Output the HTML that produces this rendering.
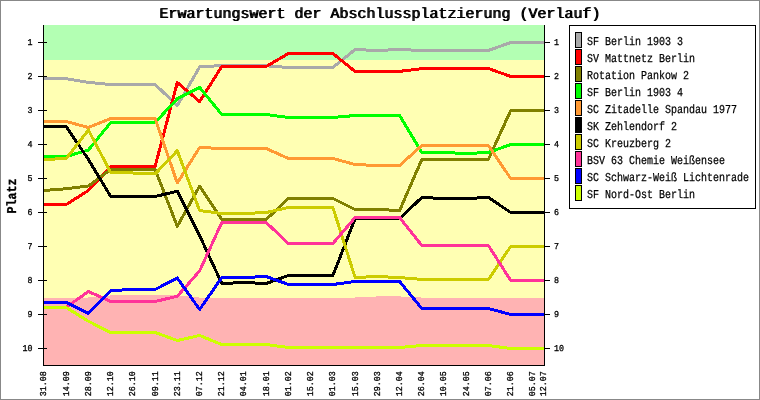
<!DOCTYPE html>
<html lang="de"><head><meta charset="utf-8"><title>Erwartungswert der Abschlussplatzierung (Verlauf)</title>
<style>html,body{margin:0;padding:0;background:#fff;overflow:hidden}svg{display:block}text{font-family:"Liberation Mono","DejaVu Sans Mono",monospace;fill:#000;text-rendering:geometricPrecision}.t{font-weight:normal;font-size:15px}.lg{font-size:12px;stroke:#000;stroke-width:0.25px}.tk{font-weight:normal;font-size:9px;stroke:#000;stroke-width:0.3px}.pl{font-weight:bold;font-size:13.5px;stroke:#000;stroke-width:0.35px}</style></head><body>
<svg width="760" height="400" viewBox="0 0 760 400">
<defs><filter id="sm" x="-2%" y="-20%" width="104%" height="140%"><feOffset in="SourceGraphic" dx="1" dy="0" result="o"/><feMerge><feMergeNode in="SourceGraphic"/><feMergeNode in="o"/></feMerge></filter><filter id="nf" x="0" y="0" width="760" height="400" filterUnits="userSpaceOnUse"><feOffset dx="0" dy="0"/></filter></defs>
<rect x="0" y="0" width="760" height="400" fill="#fff"/>
<rect x="0.5" y="0.5" width="759" height="399" fill="none" stroke="#888" stroke-width="1" shape-rendering="crispEdges"/>
<g shape-rendering="crispEdges">
<rect x="44" y="25" width="500" height="35" fill="#b3ffb3"/>
<rect x="44" y="60" width="500" height="305" fill="#ffffb3"/>
<polygon points="44,365 44.0,298 66.2,298 88.4,297.5 110.7,295.4 132.9,295.4 155.1,295.4 177.3,295.4 199.6,297.6 221.8,298 244.0,298 266.2,298 288.4,298 310.7,298 332.9,298 355.1,297.5 377.3,296.45 399.6,296.45 421.8,297.55 444.0,298 466.2,298 488.4,298 510.7,298 532.9,298 544.0,298 544,365" fill="#ffb3b3"/>
</g>
<g fill="none" stroke-width="3" stroke-linejoin="round" stroke-linecap="butt" shape-rendering="crispEdges">
<polyline stroke="#a9a9a9" points="44.0,78.75 66.2,78.75 88.4,82.40 110.7,84.50 132.9,84.50 155.1,84.50 177.3,105.50 199.6,67.00 221.8,65.50 244.0,65.50 266.2,65.75 288.4,67.50 310.7,67.50 332.9,67.50 355.1,49.50 377.3,50.50 399.6,49.50 421.8,50.50 444.0,50.50 466.2,50.50 488.4,50.50 510.7,42.50 532.9,42.50 544.0,42.50"/>
<polyline stroke="#ff0000" points="44.0,204.50 66.2,204.50 88.4,190.50 110.7,166.50 132.9,166.50 155.1,166.50 177.3,82.50 199.6,101.50 221.8,66.50 244.0,66.50 266.2,66.50 288.4,53.50 310.7,53.50 332.9,53.50 355.1,71.50 377.3,71.50 399.6,71.34 421.8,68.70 444.0,68.50 466.2,68.50 488.4,68.50 510.7,76.50 532.9,76.50 544.0,76.50"/>
<polyline stroke="#808000" points="44.0,190.50 66.2,188.75 88.4,186.00 110.7,169.50 132.9,169.50 155.1,169.50 177.3,226.25 199.6,186.25 221.8,219.50 244.0,219.50 266.2,219.50 288.4,198.50 310.7,198.50 332.9,198.50 355.1,209.50 377.3,209.50 399.6,210.50 421.8,159.50 444.0,159.50 466.2,159.50 488.4,159.50 510.7,110.50 532.9,110.50 544.0,110.50"/>
<polyline stroke="#00ff00" points="44.0,156.50 66.2,156.50 88.4,150.00 110.7,122.50 132.9,122.50 155.1,122.50 177.3,98.75 199.6,87.50 221.8,114.50 244.0,114.50 266.2,114.50 288.4,117.50 310.7,117.50 332.9,117.50 355.1,115.50 377.3,115.50 399.6,115.50 421.8,152.50 444.0,152.50 466.2,153.50 488.4,152.50 510.7,144.50 532.9,144.50 544.0,144.50"/>
<polyline stroke="#ff9933" points="44.0,121.50 66.2,121.50 88.4,127.50 110.7,118.50 132.9,118.50 155.1,118.50 177.3,183.00 199.6,147.50 221.8,148.50 244.0,148.50 266.2,148.50 288.4,158.50 310.7,158.50 332.9,158.50 355.1,164.50 377.3,165.50 399.6,165.50 421.8,145.50 444.0,145.50 466.2,145.50 488.4,145.50 510.7,178.50 532.9,178.50 544.0,178.50"/>
<polyline stroke="#000000" points="44.0,126.50 66.2,126.50 88.4,159.50 110.7,196.50 132.9,196.50 155.1,196.50 177.3,191.25 199.6,235.50 221.8,283.50 244.0,282.50 266.2,283.50 288.4,275.50 310.7,275.50 332.9,275.50 355.1,218.50 377.3,218.50 399.6,218.50 421.8,197.50 444.0,198.50 466.2,198.50 488.4,197.50 510.7,212.50 532.9,212.50 544.0,212.50"/>
<polyline stroke="#cccc00" points="44.0,159.50 66.2,158.50 88.4,130.00 110.7,172.50 132.9,173.00 155.1,174.00 177.3,150.75 199.6,210.50 221.8,213.50 244.0,213.50 266.2,212.50 288.4,207.50 310.7,207.50 332.9,207.50 355.1,277.50 377.3,276.50 399.6,277.55 421.8,279.40 444.0,279.50 466.2,279.50 488.4,279.50 510.7,246.50 532.9,246.50 544.0,246.50"/>
<polyline stroke="#ff3399" points="44.0,307.25 66.2,307.25 88.4,291.50 110.7,301.50 132.9,301.50 155.1,301.50 177.3,296.25 199.6,271.00 221.8,222.50 244.0,222.50 266.2,222.50 288.4,243.50 310.7,243.50 332.9,243.50 355.1,217.50 377.3,217.50 399.6,217.50 421.8,245.50 444.0,245.50 466.2,245.50 488.4,245.50 510.7,280.50 532.9,280.50 544.0,280.50"/>
<polyline stroke="#0000ff" points="44.0,302.50 66.2,302.50 88.4,313.50 110.7,290.50 132.9,289.50 155.1,289.50 177.3,278.00 199.6,309.50 221.8,277.50 244.0,277.50 266.2,276.50 288.4,284.50 310.7,284.50 332.9,284.50 355.1,281.50 377.3,281.50 399.6,281.50 421.8,308.50 444.0,308.50 466.2,308.50 488.4,308.50 510.7,314.50 532.9,314.50 544.0,314.50"/>
<polyline stroke="#ccff00" points="44.0,307.50 66.2,307.50 88.4,321.25 110.7,332.50 132.9,332.50 155.1,332.50 177.3,340.50 199.6,335.50 221.8,344.50 244.0,344.50 266.2,344.50 288.4,347.50 310.7,347.50 332.9,347.50 355.1,347.50 377.3,347.50 399.6,347.50 421.8,345.50 444.0,345.50 466.2,345.50 488.4,345.50 510.7,348.50 532.9,348.50 544.0,348.50"/>
</g>
<g stroke="#000" stroke-width="1" shape-rendering="crispEdges" fill="none">
<path d="M43.5 25V365.5 M43 365.5H545 M544.5 25V366"/>
<path d="M38 42.5H47 M545 42.5H550 M38 76.5H47 M545 76.5H550 M38 110.5H47 M545 110.5H550 M38 144.5H47 M545 144.5H550 M38 178.5H47 M545 178.5H550 M38 212.5H47 M545 212.5H550 M38 246.5H47 M545 246.5H550 M38 280.5H47 M545 280.5H550 M38 314.5H47 M545 314.5H550 M38 348.5H47 M545 348.5H550"/>
</g>
<g filter="url(#nf)">
<text class="t" filter="url(#sm)" x="159" y="18" textLength="441" lengthAdjust="spacingAndGlyphs">Erwartungswert der Abschlussplatzierung (Verlauf)</text>
<text class="tk" x="27.6" y="45.0" textLength="5" lengthAdjust="spacingAndGlyphs">1</text>
<text class="tk" x="554" y="45.0" textLength="5" lengthAdjust="spacingAndGlyphs">1</text>
<text class="tk" x="27.6" y="79.0" textLength="5" lengthAdjust="spacingAndGlyphs">2</text>
<text class="tk" x="554" y="79.0" textLength="5" lengthAdjust="spacingAndGlyphs">2</text>
<text class="tk" x="27.6" y="113.0" textLength="5" lengthAdjust="spacingAndGlyphs">3</text>
<text class="tk" x="554" y="113.0" textLength="5" lengthAdjust="spacingAndGlyphs">3</text>
<text class="tk" x="27.6" y="147.0" textLength="5" lengthAdjust="spacingAndGlyphs">4</text>
<text class="tk" x="554" y="147.0" textLength="5" lengthAdjust="spacingAndGlyphs">4</text>
<text class="tk" x="27.6" y="181.0" textLength="5" lengthAdjust="spacingAndGlyphs">5</text>
<text class="tk" x="554" y="181.0" textLength="5" lengthAdjust="spacingAndGlyphs">5</text>
<text class="tk" x="27.6" y="215.0" textLength="5" lengthAdjust="spacingAndGlyphs">6</text>
<text class="tk" x="554" y="215.0" textLength="5" lengthAdjust="spacingAndGlyphs">6</text>
<text class="tk" x="27.6" y="249.0" textLength="5" lengthAdjust="spacingAndGlyphs">7</text>
<text class="tk" x="554" y="249.0" textLength="5" lengthAdjust="spacingAndGlyphs">7</text>
<text class="tk" x="27.6" y="283.0" textLength="5" lengthAdjust="spacingAndGlyphs">8</text>
<text class="tk" x="554" y="283.0" textLength="5" lengthAdjust="spacingAndGlyphs">8</text>
<text class="tk" x="27.6" y="317.0" textLength="5" lengthAdjust="spacingAndGlyphs">9</text>
<text class="tk" x="554" y="317.0" textLength="5" lengthAdjust="spacingAndGlyphs">9</text>
<text class="tk" x="22.6" y="351.0" textLength="10" lengthAdjust="spacingAndGlyphs">10</text>
<text class="tk" x="554" y="351.0" textLength="10" lengthAdjust="spacingAndGlyphs">10</text>
<text class="tk" transform="translate(46.4 396.3) rotate(-90)" textLength="25" lengthAdjust="spacingAndGlyphs">31.08</text>
<text class="tk" transform="translate(68.6 396.3) rotate(-90)" textLength="25" lengthAdjust="spacingAndGlyphs">14.09</text>
<text class="tk" transform="translate(90.8 396.3) rotate(-90)" textLength="25" lengthAdjust="spacingAndGlyphs">28.09</text>
<text class="tk" transform="translate(113.1 396.3) rotate(-90)" textLength="25" lengthAdjust="spacingAndGlyphs">12.10</text>
<text class="tk" transform="translate(135.3 396.3) rotate(-90)" textLength="25" lengthAdjust="spacingAndGlyphs">26.10</text>
<text class="tk" transform="translate(157.5 396.3) rotate(-90)" textLength="25" lengthAdjust="spacingAndGlyphs">09.11</text>
<text class="tk" transform="translate(179.7 396.3) rotate(-90)" textLength="25" lengthAdjust="spacingAndGlyphs">23.11</text>
<text class="tk" transform="translate(202.0 396.3) rotate(-90)" textLength="25" lengthAdjust="spacingAndGlyphs">07.12</text>
<text class="tk" transform="translate(224.2 396.3) rotate(-90)" textLength="25" lengthAdjust="spacingAndGlyphs">21.12</text>
<text class="tk" transform="translate(246.4 396.3) rotate(-90)" textLength="25" lengthAdjust="spacingAndGlyphs">04.01</text>
<text class="tk" transform="translate(268.6 396.3) rotate(-90)" textLength="25" lengthAdjust="spacingAndGlyphs">18.01</text>
<text class="tk" transform="translate(290.8 396.3) rotate(-90)" textLength="25" lengthAdjust="spacingAndGlyphs">01.02</text>
<text class="tk" transform="translate(313.1 396.3) rotate(-90)" textLength="25" lengthAdjust="spacingAndGlyphs">15.02</text>
<text class="tk" transform="translate(335.3 396.3) rotate(-90)" textLength="25" lengthAdjust="spacingAndGlyphs">01.03</text>
<text class="tk" transform="translate(357.5 396.3) rotate(-90)" textLength="25" lengthAdjust="spacingAndGlyphs">15.03</text>
<text class="tk" transform="translate(379.7 396.3) rotate(-90)" textLength="25" lengthAdjust="spacingAndGlyphs">29.03</text>
<text class="tk" transform="translate(402.0 396.3) rotate(-90)" textLength="25" lengthAdjust="spacingAndGlyphs">12.04</text>
<text class="tk" transform="translate(424.2 396.3) rotate(-90)" textLength="25" lengthAdjust="spacingAndGlyphs">26.04</text>
<text class="tk" transform="translate(446.4 396.3) rotate(-90)" textLength="25" lengthAdjust="spacingAndGlyphs">10.05</text>
<text class="tk" transform="translate(468.6 396.3) rotate(-90)" textLength="25" lengthAdjust="spacingAndGlyphs">24.05</text>
<text class="tk" transform="translate(490.8 396.3) rotate(-90)" textLength="25" lengthAdjust="spacingAndGlyphs">07.06</text>
<text class="tk" transform="translate(513.1 396.3) rotate(-90)" textLength="25" lengthAdjust="spacingAndGlyphs">21.06</text>
<text class="tk" transform="translate(535.3 396.3) rotate(-90)" textLength="25" lengthAdjust="spacingAndGlyphs">05.07</text>
<text class="tk" transform="translate(546.4 396.3) rotate(-90)" textLength="25" lengthAdjust="spacingAndGlyphs">12.07</text>
<text class="pl" transform="translate(16.4 213.5) rotate(-90)" textLength="35" lengthAdjust="spacingAndGlyphs">Platz</text>
</g>
<rect x="569.5" y="25.5" width="186" height="183" fill="#fff" stroke="#000" stroke-width="1" shape-rendering="crispEdges"/>
<g filter="url(#nf)">
<rect x="575.5" y="32.5" width="6" height="15" fill="#a9a9a9" stroke="#000" stroke-width="1" shape-rendering="crispEdges"/>
<text class="lg" x="587" y="45" textLength="96" lengthAdjust="spacingAndGlyphs">SF Berlin 1903 3</text>
<rect x="575.5" y="49.5" width="6" height="15" fill="#ff0000" stroke="#000" stroke-width="1" shape-rendering="crispEdges"/>
<text class="lg" x="587" y="62" textLength="108" lengthAdjust="spacingAndGlyphs">SV Mattnetz Berlin</text>
<rect x="575.5" y="66.5" width="6" height="15" fill="#808000" stroke="#000" stroke-width="1" shape-rendering="crispEdges"/>
<text class="lg" x="587" y="79" textLength="102" lengthAdjust="spacingAndGlyphs">Rotation Pankow 2</text>
<rect x="575.5" y="83.5" width="6" height="15" fill="#00ff00" stroke="#000" stroke-width="1" shape-rendering="crispEdges"/>
<text class="lg" x="587" y="96" textLength="96" lengthAdjust="spacingAndGlyphs">SF Berlin 1903 4</text>
<rect x="575.5" y="100.5" width="6" height="15" fill="#ff9933" stroke="#000" stroke-width="1" shape-rendering="crispEdges"/>
<text class="lg" x="587" y="113" textLength="150" lengthAdjust="spacingAndGlyphs">SC Zitadelle Spandau 1977</text>
<rect x="575.5" y="117.5" width="6" height="15" fill="#000000" stroke="#000" stroke-width="1" shape-rendering="crispEdges"/>
<text class="lg" x="587" y="130" textLength="90" lengthAdjust="spacingAndGlyphs">SK Zehlendorf 2</text>
<rect x="575.5" y="134.5" width="6" height="15" fill="#cccc00" stroke="#000" stroke-width="1" shape-rendering="crispEdges"/>
<text class="lg" x="587" y="147" textLength="84" lengthAdjust="spacingAndGlyphs">SC Kreuzberg 2</text>
<rect x="575.5" y="151.5" width="6" height="15" fill="#ff3399" stroke="#000" stroke-width="1" shape-rendering="crispEdges"/>
<text class="lg" x="587" y="164" textLength="138" lengthAdjust="spacingAndGlyphs">BSV 63 Chemie Weißensee</text>
<rect x="575.5" y="168.5" width="6" height="15" fill="#0000ff" stroke="#000" stroke-width="1" shape-rendering="crispEdges"/>
<text class="lg" x="587" y="181" textLength="162" lengthAdjust="spacingAndGlyphs">SC Schwarz-Weiß Lichtenrade</text>
<rect x="575.5" y="185.5" width="6" height="15" fill="#ccff00" stroke="#000" stroke-width="1" shape-rendering="crispEdges"/>
<text class="lg" x="587" y="198" textLength="108" lengthAdjust="spacingAndGlyphs">SF Nord-Ost Berlin</text>
</g>
</svg></body></html>
